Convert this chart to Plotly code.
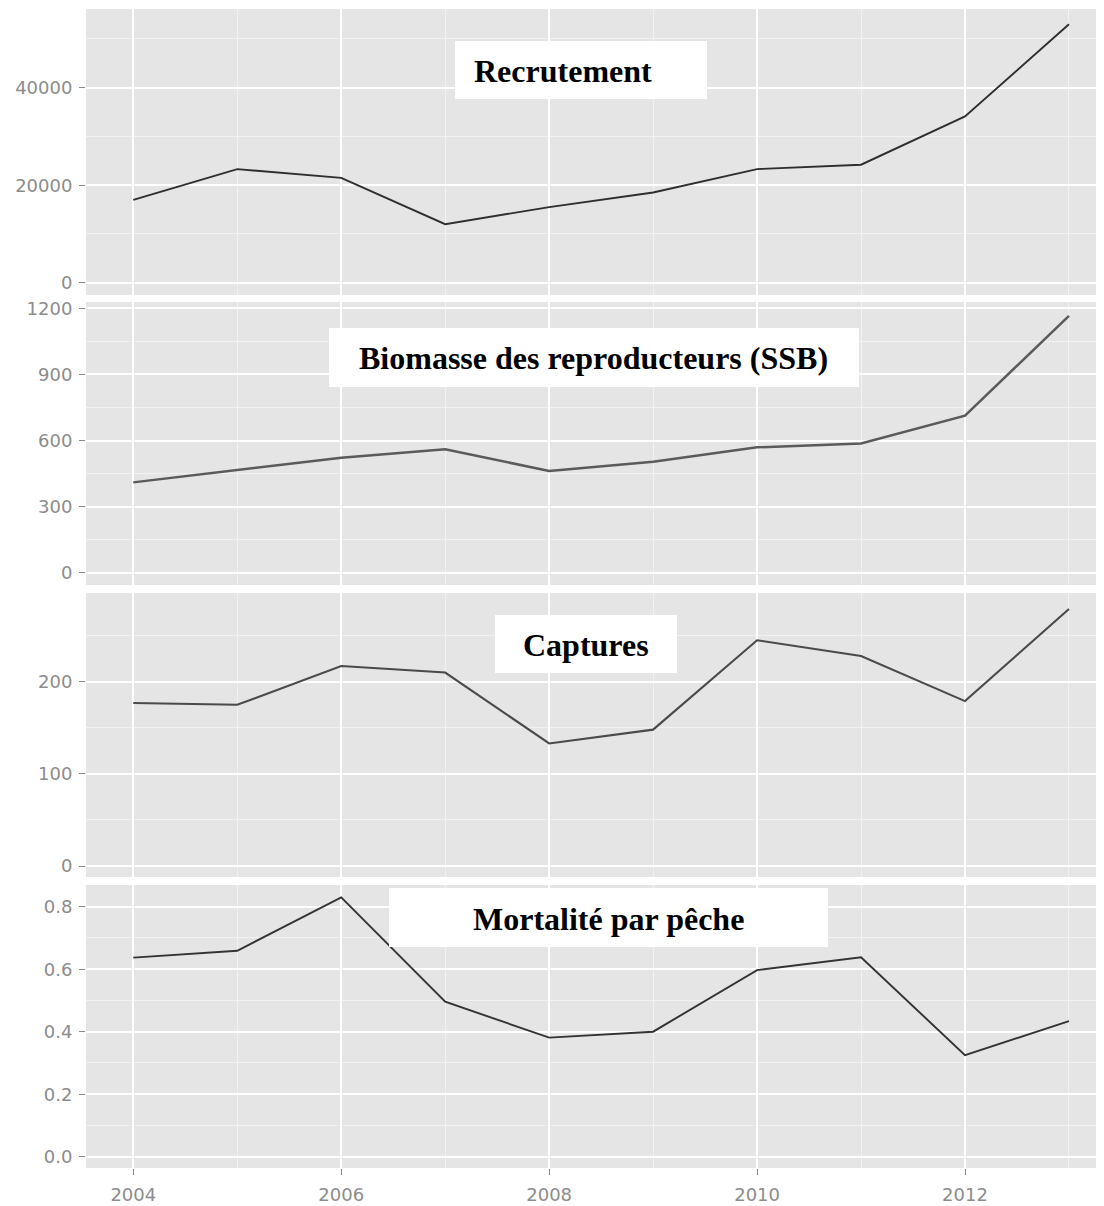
import plotly.graph_objects as go
from plotly.subplots import make_subplots

years = [2004, 2005, 2006, 2007, 2008, 2009, 2010, 2011, 2012, 2013]
recrutement = [17000, 23300, 21500, 12000, 15500, 18500, 23300, 24200, 34100, 53000]
ssb = [410, 465, 522, 560, 462, 504, 569, 587, 713, 1166]
captures = [177, 175, 217, 210, 133, 148, 245, 228, 179, 279]
mortalite = [0.637, 0.659, 0.830, 0.496, 0.381, 0.400, 0.597, 0.638, 0.325, 0.434]

titles = ["Recrutement", "Biomasse des reproducteurs (SSB)", "Captures", "Mortalité par pêche"]
series = [recrutement, ssb, captures, mortalite]
line_colors = ["#2e2e2e", "#5a5a5a", "#4a4a4a", "#333333"]
line_widths = [1.9, 2.5, 2.1, 1.9]
y_ranges = [[-2520, 56140], [-56, 1229], [-11.9, 296.3], [-0.0362, 0.8694]]
y_major = [20000, 300, 100, 0.2]
y_minor = [10000, 150, 50, 0.1]
y_formats = ["d", "d", "d", ".1f"]

# page body has an 8px default margin -> shift reference pixel geometry
OFF = 8
W, H = 1104 - OFF, 1206 - OFF
ML, MR, MT, MB = 86 - OFF, 0, 9 - OFF, 1206 - 1168
PW, PH = W - ML - MR, H - MT - MB


def px_x(p):
    return (p - OFF - ML) / PW


def px_y(p):
    return (H - MB - (p - OFF)) / PH


# panel pixel extents in reference (top, bottom)
panels = [(9, 295), (302, 585), (593, 877), (885, 1168)]

fig = make_subplots(rows=4, cols=1, shared_xaxes=True, vertical_spacing=0.005)

for i, (vals, col, lw) in enumerate(zip(series, line_colors, line_widths)):
    fig.add_trace(go.Scatter(x=years, y=vals, mode="lines",
                             line=dict(color=col, width=lw),
                             showlegend=False, hoverinfo="skip"),
                  row=i + 1, col=1)

tick_font = dict(family="DejaVu Sans", size=18, color="#8c8c8c")

for i in range(4):
    top, bot = panels[i]
    yname = "yaxis" if i == 0 else f"yaxis{i+1}"
    xname = "xaxis" if i == 0 else f"xaxis{i+1}"
    fig.layout[yname].update(
        domain=[px_y(bot), px_y(top)],
        range=y_ranges[i], dtick=y_major[i], tick0=0, tickformat=y_formats[i],
        showgrid=True, gridcolor="#FFFFFF", gridwidth=1.6,
        zeroline=False, showline=False,
        ticks="outside", ticklen=6, tickcolor="#8a8a8a", tickwidth=1,
        tickfont=tick_font, automargin=False, ticklabelstandoff=3,
        minor=dict(dtick=y_minor[i], tick0=0, showgrid=True,
                   gridcolor="#F2F2F2", gridwidth=1, ticks=""),
    )
    fig.layout[xname].update(
        range=[2003.545, 2013.337], dtick=2, tick0=2004,
        showgrid=True, gridcolor="#FFFFFF", gridwidth=1.6,
        zeroline=False, showline=False,
        minor=dict(dtick=1, tick0=2004, showgrid=True,
                   gridcolor="#F2F2F2", gridwidth=1, ticks=""),
        showticklabels=(i == 3), automargin=False,
        ticks="outside" if i == 3 else "", ticklen=6, tickcolor="#8a8a8a",
        tickfont=tick_font, ticklabelstandoff=4,
    )

# title boxes in reference pixels: (x0, x1, y0, y1), text centre x
boxes = [
    ((455, 707, 41, 99), 563),
    ((329, 859, 328, 387), 593),
    ((495, 677, 615, 673), 586),
    ((389, 828, 888, 947), 608.5),
]
shapes = []
annotations = []
for t, ((x0, x1, y0, y1), cx) in zip(titles, boxes):
    shapes.append(dict(type="rect", xref="paper", yref="paper",
                       x0=px_x(x0), x1=px_x(x1), y0=px_y(y1), y1=px_y(y0),
                       fillcolor="#FFFFFF", line=dict(width=0), layer="above"))
    annotations.append(dict(text=f"<b>{t}</b>", xref="paper", yref="paper",
                            x=px_x(cx), y=px_y((y0 + y1) / 2 + 1),
                            xanchor="center", yanchor="middle", showarrow=False,
                            font=dict(family="Liberation Serif", size=32, color="#000000")))

fig.update_layout(
    width=W, height=H,
    margin=dict(l=ML, r=MR, t=MT, b=MB, pad=0),
    paper_bgcolor="#FFFFFF", plot_bgcolor="#E5E5E5",
    shapes=shapes, annotations=annotations,
    showlegend=False,
)

fig.write_html("out.html")
